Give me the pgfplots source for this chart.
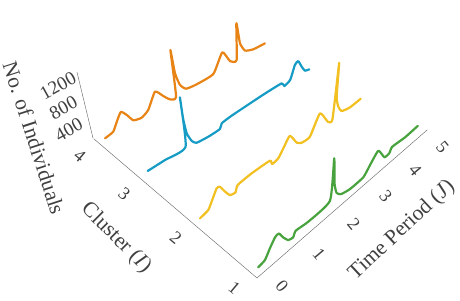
\documentclass[border=0pt]{standalone}
\usepackage{fontspec}
\setmainfont{Liberation Serif}
\usepackage{pgfplots}
\pgfplotsset{compat=1.18}
\definecolor{cOrange}{RGB}{232,131,22}
\definecolor{cBlue}{RGB}{22,156,196}
\definecolor{cYellow}{RGB}{242,192,32}
\definecolor{cGreen}{RGB}{72,162,62}
\definecolor{cText}{RGB}{64,64,64}
\pgfplotsset{
  perspx/.style={x coord trafo/.code={\pgfmathparse{38.3*##1-1.25*##1*##1}\pgfmathresult}},
  curve/.style={perspx,hide axis,clip=false,anchor=origin,
    xmin=0,xmax=5.4,ymin=0,ymax=4.2,zmin=0,zmax=1400},
  curveline/.style={line width=2.2pt,line join=round,line cap=round,no markers,smooth,tension=0.3},
}
\begin{document}
\begin{tikzpicture}[x=1pt,y=1pt]
\useasboundingbox (0,0) rectangle (460,300);
% frame: time and cluster axes
\begin{axis}[
  at={(257pt,22pt)},anchor=origin,clip=false,
  perspx,
  y coord trafo/.code={\pgfmathparse{62*(#1-1)-3.5*(#1-1)*(#1-1)}\pgfmathresult},
  x={(1pt,0.87pt)},y={(-1pt,0.853pt)},z={(0pt,1pt)},
  xmin=0,xmax=5.4,ymin=1,ymax=4.22,zmin=0,zmax=1,
  axis lines=left,axis z line=none,
  axis line style={-,draw=gray!85!black,line width=0.45pt},
  tick style={draw=none},
  xtick={0,1,2,3,4,5},xticklabels={0,1,2,3,4,5},
  ytick={1,2,3,4},yticklabels={1,2,3,4},
  ztick=\empty,
  tick label style={font=\fontsize{18}{19}\selectfont,text=cText,anchor=center,inner sep=0pt},
  xticklabel style={xshift=23.5pt,yshift=-7pt,rotate=-50},
  yticklabel style={xshift=-21pt,yshift=-8pt,rotate=-40},
]
\addplot3[draw=none] coordinates {(0,1,0)};
\end{axis}
% vertical axis
\begin{axis}[
  at={(94pt,161pt)},anchor=origin,clip=false,
  x={(1pt,0.6pt)},y={(-1pt,0.85pt)},z={(-0.01333pt,0.055pt)},
  xmin=0,xmax=1,ymin=0,ymax=1,zmin=200,zmax=1400,
  axis lines=left,axis x line=none,axis y line=none,
  axis line style={-,draw=gray!85!black,line width=0.45pt},
  tick style={draw=none},
  xtick=\empty,ytick=\empty,
  ztick={400,800,1200},zticklabels={400,800,1200},
  tick label style={font=\fontsize{19}{20}\selectfont,text=cText,anchor=center,inner sep=0pt},
  zticklabel style={xshift=-20pt,yshift=-4pt,rotate=29},
]
\addplot3[draw=none] coordinates {(0,0,400)};
\end{axis}
% cluster 4
\begin{axis}[curve,at={(315.6pt,-43.3pt)},
  x={(1pt,0.60pt)},y={(-52pt,46pt)},z={(-0.00671pt,0.055pt)}]
\addplot3[curveline,cOrange] coordinates {
(0,4,382)(.22,4,410)(.34,4,545)(.47,4,668)(.61,4,556)(.76,4,400)(.98,4,358)(1.18,4,422)
(1.42,4,664)(1.63,4,505)(1.80,4,382)(1.98,4,365)(1.98,4,1214)(2.03,4,771)(2.13,4,524)
(2.29,4,398)(2.61,4,365)(3.15,4,371)(3.51,4,647)(3.72,4,422)(3.94,4,369)(4.08,4,996)
(4.12,4,618)(4.26,4,444)(4.55,4,382)(4.98,4,365)};
\end{axis}
% cluster 3
\begin{axis}[curve,at={(306.6pt,-34pt)},
  x={(1pt,0.66pt)},y={(-52pt,46pt)},z={(-0.00633pt,0.055pt)}]
\addplot3[curveline,cBlue] coordinates {
(0,3,455)(.46,3,447)(1.02,3,442)(1.02,3,1340)(1.04,3,949)(1.09,3,656)(1.2,3,471)(1.32,3,387)
(1.66,3,358)(2.0,3,358)(2.07,3,435)(2.38,3,453)(3.34,3,456)(4.02,3,442)(4.1,3,367)(4.32,3,405)
(4.54,3,604)(4.67,3,634)(4.77,3,500)(4.87,3,395)(5.03,3,371)};
\end{axis}
% cluster 2
\begin{axis}[curve,at={(301.4pt,-32.3pt)},
  x={(1pt,0.76pt)},y={(-52pt,46pt)},z={(0.00655pt,0.055pt)}]
\addplot3[curveline,cYellow] coordinates {
(0,2,400)(.21,2,440)(.29,2,580)(.38,2,747)(.47,2,729)(.64,2,553)(.80,2,411)(.96,2,378)
(1.0,2,493)(1.39,2,514)(1.93,2,489)(2.02,2,387)(2.2,2,411)(2.33,2,534)(2.50,2,684)
(2.77,2,442)(2.94,2,367)(3.21,2,360)(3.48,2,676)(3.81,2,391)(3.98,2,369)(3.98,2,1393)
(4.04,2,749)(4.15,2,531)(4.30,2,393)(4.62,2,340)(5.03,2,349)};
\end{axis}
% cluster 1
\begin{axis}[curve,at={(308.1pt,-35pt)},
  x={(1pt,0.87pt)},y={(-52pt,46pt)},z={(0.0055pt,0.055pt)}]
\addplot3[curveline,cGreen] coordinates {
(0,1,395)(.17,1,423)(.28,1,570)(.40,1,702)(.50,1,712)(.64,1,558)(.80,1,418)(.94,1,385)
(1.0,1,475)(1.36,1,436)(1.99,1,478)(1.99,1,1249)(2.08,1,749)(2.18,1,522)(2.33,1,420)
(2.62,1,364)(3.05,1,367)(3.25,1,496)(3.5,1,636)(3.75,1,402)(3.92,1,395)(4.01,1,474)
(4.48,1,440)(4.96,1,447)};
\end{axis}
\node[rotate=-72,text=cText,font=\fontsize{21.5}{22}\selectfont,inner sep=0pt] at (34,162) {No. of Individuals};
\node[rotate=-45,text=cText,font=\fontsize{21.5}{22}\selectfont,inner sep=0pt] at (116,62) {Cluster (\textit{I})};
\node[rotate=43,text=cText,font=\fontsize{21.5}{22}\selectfont,inner sep=0pt] at (402,70) {Time Period (\textit{J})};
\end{tikzpicture}
\end{document}
